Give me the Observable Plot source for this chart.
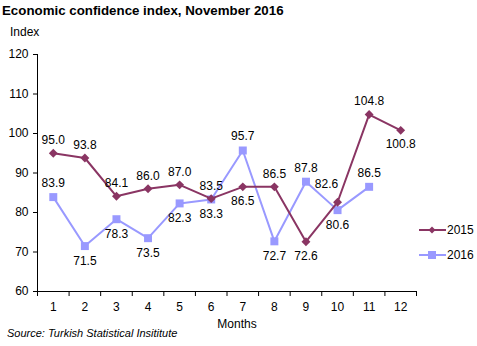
<!DOCTYPE html>
<html>
<head>
<meta charset="utf-8">
<script src="https://cdn.jsdelivr.net/npm/d3@7"></script>
<script src="https://cdn.jsdelivr.net/npm/@observablehq/plot@0.6"></script>
<style>
  html, body { margin: 0; padding: 0; background: #fff; }
  #wrap { position: relative; width: 477px; height: 346px; overflow: hidden; font-family: "Liberation Sans", Arial, sans-serif; }
  #title { position: absolute; left: 2px; top: 3px; font-weight: bold; font-size: 13.3px; color: #000; white-space: nowrap; }
  #ylab { position: absolute; left: 10px; top: 25px; font-size: 12px; }
  #xlab { position: absolute; left: 237px; top: 317px; font-size: 12px; transform: translateX(-50%); }
  #source { position: absolute; left: 7px; top: 327px; font-size: 11px; font-style: italic; white-space: nowrap; }
  #chart { position: absolute; left: 0; top: 0; }
  .leg { position: absolute; left: 419px; font-size: 12px; display: flex; align-items: center; }
</style>
</head>
<body>
<div id="wrap">
  <div id="chart"></div>
  <div id="title">Economic confidence index, November 2016</div>
  <div id="ylab">Index</div>
  <div id="xlab">Months</div>
  <div id="source">Source: Turkish Statistical Insititute</div>
  <div class="leg" id="leg2015" style="top:223px"></div>
  <div class="leg" id="leg2016" style="top:248px"></div>
</div>
<script>
const months = [1, 2, 3, 4, 5, 6, 7, 8, 9, 10, 11, 12];
const values2015 = [95.0, 93.8, 84.1, 86.0, 87.0, 83.5, 86.5, 86.5, 72.6, 82.6, 104.8, 100.8];
const values2016 = [83.9, 71.5, 78.3, 73.5, 82.3, 83.3, 95.7, 72.7, 87.8, 80.6, 86.5];
const yTicks = [60, 70, 80, 90, 100, 110, 120];
const seriesNames = ["2015", "2016"];
// label placement (style): months whose label sits below the point
const below2015 = [7, 9, 12];
const below2016 = [2, 3, 4, 5, 6, 8, 10];
const leftAbove2015 = [10];

const col2015 = "#8a3563";
const col2016 = "#9999ff";

const d2015 = values2015.map((v, i) => ({month: months[i], value: v}));
const d2016 = values2016.map((v, i) => ({month: months[i], value: v}));

const fmt = d => d.value.toFixed(1);

const textOpts = {x: "month", y: "value", text: fmt, fontSize: 12, fill: "#000"};

const chart = Plot.plot({
  width: 477,
  height: 346,
  marginLeft: 37,
  marginRight: 61,
  marginTop: 54,
  marginBottom: 55,
  style: {fontFamily: "Liberation Sans, Arial, sans-serif", fontSize: "12px", color: "#000", background: "transparent"},
  x: {type: "linear", domain: [0.5, 12.5]},
  y: {domain: [60, 120]},
  marks: [
    Plot.axisY({ticks: yTicks, tickSize: 4, tickPadding: 5, label: null, fontSize: 12}),
    Plot.axisX({ticks: d3.range(0.5, 13, 1), tickSize: 5, tickFormat: () => "", label: null}),
    Plot.axisX({ticks: months, tickSize: 0, tickPadding: 11, tickFormat: d => String(d), fontSize: 12, label: null}),
    Plot.ruleX([0.5], {stroke: "#000"}),
    Plot.ruleY([60], {stroke: "#000"}),
    Plot.line(d2016, {x: "month", y: "value", stroke: col2016, strokeWidth: 2}),
    Plot.dot(d2016, {x: "month", y: "value", symbol: "square", r: 4.5, fill: col2016, stroke: "none"}),
    Plot.line(d2015, {x: "month", y: "value", stroke: col2015, strokeWidth: 2}),
    Plot.dot(d2015, {x: "month", y: "value", symbol: "diamond2", r: 4, fill: col2015, stroke: "none"}),
    Plot.text(d2015.filter(d => !below2015.includes(d.month) && !leftAbove2015.includes(d.month)), {...textOpts, dy: -13}),
    Plot.text(d2015.filter(d => below2015.includes(d.month)), {...textOpts, dy: 14}),
    Plot.text(d2015.filter(d => leftAbove2015.includes(d.month)), {...textOpts, dx: -11, dy: -18}),
    Plot.text(d2016.filter(d => !below2016.includes(d.month)), {...textOpts, dy: -14}),
    Plot.text(d2016.filter(d => below2016.includes(d.month)), {...textOpts, dy: 15})
  ]
});
document.getElementById("chart").appendChild(chart);

function legendItem(el, name, color, symbol) {
  const marker = symbol === "diamond"
    ? `<path d="M13,2.5 L16.5,6 L13,9.5 L9.5,6 Z" fill="${color}"/>`
    : `<rect x="9" y="2" width="8" height="8" fill="${color}"/>`;
  el.innerHTML = `<svg width="27" height="12" style="display:block"><line x1="0" y1="6" x2="27" y2="6" stroke="${color}" stroke-width="2"/>${marker}</svg><span style="margin-left:1px">${name}</span>`;
}
legendItem(document.getElementById("leg2015"), seriesNames[0], col2015, "diamond");
legendItem(document.getElementById("leg2016"), seriesNames[1], col2016, "square");
</script>
</body>
</html>
